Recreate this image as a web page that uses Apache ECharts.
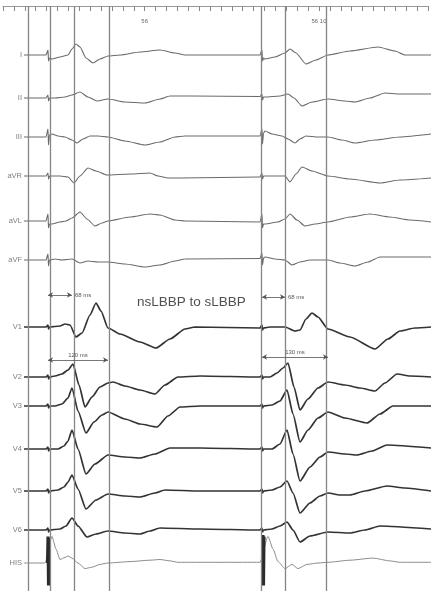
<!DOCTYPE html>
<html><head><meta charset="utf-8">
<script src="https://cdn.jsdelivr.net/npm/echarts@6/dist/echarts.min.js"></script>
<style>html,body{margin:0;padding:0;background:#fff}#c{width:431px;height:591px}</style>
</head><body><div id="c"></div>
<script>
// ---- DATA (time in ms relative to pacing spike, amplitude in arbitrary units, up positive) ----
const leadNames = ['I','II','III','aVR','aVL','aVF','V1','V2','V3','V4','V5','V6','HIS'];
const leadI = [[-48,0],[-4,0],[0,5],[1,-6],[3,-3],[8,-4],[24,-2],[40,0],[48,6],[56,11],[64,8],[76,-3],[90,-8],[104,-4],[120,-1],[144,0],[184,3],[224,5],[254,2],[274,0],[424,0],[428,5],[429,-6],[431,-3],[434,-4],[454,-2],[474,2],[484,6],[496,2],[516,-9],[536,-5],[560,0],[604,4],[660,8],[694,4],[714,0],[766,0]];
const leadII = [[-48,0],[-4,0],[0,3],[1,-3],[3,0],[14,0],[34,1],[48,3],[64,6],[80,1],[98,-3],[120,-1],[154,-4],[194,-5],[224,-1],[244,2],[284,2],[424,1.5],[428,4],[429,-2],[431,1],[434,1],[464,2],[480,4],[492,0],[508,-8],[528,-4],[560,-1],[594,-3],[614,-4],[644,0],[674,5],[704,4],[766,4]];
const leadIII = [[-48,0],[-4,0],[0,8],[1,-8],[3,2],[8,3],[20,1],[34,0],[48,-3],[58,-6],[70,-2],[84,1],[100,1],[120,0],[154,-4],[194,-8],[224,-5],[254,0],[274,1],[424,1],[428,8],[429,-7],[431,4],[434,6],[448,3],[468,1],[480,-2],[494,-6],[504,-2],[516,1],[540,0],[560,0],[588,-3],[614,-6],[654,-3],[704,0],[766,3]];
const leadAVR = [[-48,0],[-4,0],[0,3],[1,-3],[3,0],[24,0],[40,-1],[52,-7],[64,0],[80,8],[96,5],[118,1],[164,2],[204,3],[220,0],[240,-2],[264,-2],[424,-1],[428,3],[429,-3],[431,0],[474,0],[484,-6],[496,2],[508,9],[528,5],[560,0],[604,-3],[664,-7],[704,-4],[766,-2]];
const leadAVL = [[-48,0],[-4,0],[0,7],[1,-7],[3,-3],[8,-3],[24,-1],[36,0],[48,3],[64,9],[78,2],[94,-5],[108,-2],[120,0],[164,4],[204,7],[224,6],[254,1],[274,0],[424,-1],[428,7],[429,-7],[431,-3],[434,-3],[460,-1],[474,2],[484,7],[498,1],[514,-5],[534,-3],[560,-1],[604,4],[644,7],[684,4],[724,1],[766,-1]];
const leadAVF = [[-48,0],[-4,0],[0,6],[1,-6],[3,0],[14,1],[28,0],[48,1],[64,-3],[80,-1],[100,-2],[120,-2],[154,-4],[194,-7],[224,-5],[254,-1],[274,1],[424,1.5],[428,7],[429,-5],[431,2],[434,3],[454,1],[474,0],[488,-5],[504,-2],[524,0],[560,0],[584,-3],[614,-6],[640,-2],[664,3],[766,3]];
const leadV1 = [[-48,0],[-4,0],[0,2],[1,-2],[3,0],[24,1],[34,3],[44,2],[56,-10],[68,-6],[84,12],[96,24],[106,16],[120,-1],[144,-7],[184,-15],[216,-21],[244,-12],[274,-2],[294,0],[424,-1],[428,2],[429,-3],[431,-1],[444,0],[474,0],[494,-4],[504,-3],[516,8],[528,14],[540,10],[560,-2],[604,-10],[654,-22],[680,-12],[704,-4],[734,-1],[766,0]];
const leadV2 = [[-48,0],[-4,0],[0,2],[1,-2],[3,0],[14,1],[28,3],[40,7],[50,13],[62,-8],[74,-30],[88,-20],[104,-10],[120,-6],[130,-5],[154,-9],[184,-13],[214,-17],[234,-8],[260,0],[304,1],[424,0],[428,2],[429,-2],[431,0],[444,0],[458,4],[470,9],[480,14],[492,-10],[504,-33],[520,-22],[540,-11],[560,-5],[594,-8],[624,-11],[654,-14],[674,-6],[698,3],[724,1],[766,0]];
const leadV3 = [[-48,0],[-4,0],[0,2],[1,-2],[3,0],[14,0],[28,2],[40,8],[48,18],[60,-5],[76,-27],[92,-16],[108,-9],[120,-6],[154,-13],[184,-18],[218,-21],[240,-10],[264,-1],[304,0],[424,0],[428,2],[429,-2],[431,0],[448,1],[464,5],[478,16],[490,-8],[504,-36],[520,-24],[540,-12],[560,-6],[594,-12],[638,-17],[664,-8],[690,0],[766,0]];
const leadV4 = [[-48,0],[-4,0],[0,2],[1,-2],[3,0],[20,0],[32,3],[40,8],[48,19],[60,0],[76,-25],[94,-15],[120,-6],[154,-8],[184,-9],[214,-5],[244,1],[304,1],[424,0],[428,2],[429,-2],[431,0],[448,0],[464,5],[478,19],[490,-5],[504,-32],[524,-18],[544,-8],[560,-3],[594,-5],[618,-6],[648,-2],[678,4],[766,1]];
const leadV5 = [[-48,0],[-4,0],[0,2],[1,-2],[3,0],[20,1],[32,4],[40,9],[48,16],[60,2],[76,-18],[96,-9],[120,-3],[154,-5],[184,-6],[214,-2],[234,1],[304,0],[424,0],[428,2],[429,-2],[431,0],[448,1],[464,4],[478,10],[490,-2],[504,-22],[524,-12],[544,-5],[560,-2],[584,-4],[604,-4],[634,0],[678,5],[714,3],[766,0]];
const leadV6 = [[-48,0],[-4,0],[0,2],[1,-2],[3,0],[24,1],[36,4],[48,12],[60,4],[78,-7],[96,-4],[120,-1],[154,-3],[184,-4],[204,-1],[224,2],[304,1],[424,0],[428,2],[429,-2],[431,0],[448,1],[464,4],[478,8],[490,0],[504,-12],[524,-6],[560,-2],[604,-3],[634,0],[664,4],[766,1]];
const hisTrace = [[-48,0],[-6,0],[8,38],[16,20],[24,5],[34,8],[40,10],[48,7],[60,0],[74,-8],[88,-6],[104,-2],[120,0],[164,2],[204,4],[224,5],[244,3],[260,1],[424,1],[440,38],[450,20],[460,2],[474,-8],[488,-2],[500,-8],[518,-2],[540,0],[560,1],[604,4],[650,7],[684,3],[704,1],[766,1]];
const hisArtifactL = [[-3,0],[-2,38],[-1,-32],[0,38],[1,-32],[2,38],[3,-32],[4,36]];
const hisArtifactR = [[427,0],[428,40],[429,-32],[430,40],[431,-32],[432,40],[433,-32],[434,38]];
const markerTimes = [-44, 0, 48, 120, 428, 476, 560];
const shortIntervals = [{from:0,to:48,label:'68 ms'},{from:428,to:474,label:'68 ms'}];
const longIntervals = [{from:0,to:120,label:'120 ms'},{from:428,to:560,label:'130 ms'}];
const rulerLabels = {13:'56', 29:'56 10'};
const annotationText = 'nsLBBP to sLBBP';

// ---- LAYOUT ----
const leadData = [leadI,leadII,leadIII,leadAVR,leadAVL,leadAVF,leadV1,leadV2,leadV3,leadV4,leadV5,leadV6,hisTrace];
const baselines = [55,98,137,176,221,260,327,377,406,449,491,530,575];
const half = 40;
const T0 = -48, T1 = 766;
const fontFam = '"Liberation Sans", Arial, sans-serif';

const grid = [{left:0,right:0,top:6,bottom:0}];
const xAxis = [
  {gridIndex:0,type:'value',min:-96,max:T1,show:false},
  {gridIndex:0,type:'value',min:0,max:39,interval:1,position:'top',
   axisLine:{show:true,lineStyle:{color:'#9a9a9a',width:1}},
   axisTick:{show:true,inside:true,length:5,lineStyle:{color:'#888',width:1}},
   axisLabel:{show:true,inside:true,margin:12,fontSize:6,color:'#666',fontFamily:fontFam,
     formatter:v=>rulerLabels[v]||''},
   splitLine:{show:false}}
];
const yAxis = [{gridIndex:0,type:'value',min:0,max:1,show:false}];
const series = [{
  type:'line',xAxisIndex:0,yAxisIndex:0,data:[],silent:true,z:1,
  markLine:{silent:true,symbol:['none','none'],animation:false,
    lineStyle:{color:'#858585',width:1.3,type:'solid'},label:{show:false},
    data:markerTimes.map(t=>({xAxis:t}))}
}];

leadNames.forEach((name,i)=>{
  const gi = i+1;
  const xi = i+2;
  grid.push({left:24,right:0,top:baselines[i]-half,height:half*2});
  xAxis.push({gridIndex:gi,type:'value',min:T0,max:T1,show:false});
  yAxis.push({gridIndex:gi,type:'value',min:-half,max:half,interval:half,
    axisLine:{show:false},axisTick:{show:false},splitLine:{show:false},
    axisLabel:{show:true,margin:2,fontSize:7.5,color:'#808080',fontFamily:fontFam,
      formatter:v=>v===0?name:''}});
  const precordial = i>=6 && i<=11;
  const isHis = i===12;
  const s = {
    type:'line',xAxisIndex:xi,yAxisIndex:gi,data:leadData[i],
    showSymbol:false,symbol:'none',smooth:0.2,smoothMonotone:'x',clip:false,z:3,
    lineStyle:{color: isHis?'#8c8c8c':(precordial?'#333':'#6a6a6a'),
               width: isHis?1:(precordial?1.7:1.1)}
  };
  if (i===6) {
    s.markLine = {silent:true,symbol:['arrow','arrow'],symbolSize:[4,5],animation:false,
      lineStyle:{color:'#555',width:0.8,type:'solid'},
      data: shortIntervals.map((iv,k)=>[
        {coord:[iv.from, k===0?32:30],label:{show:true,position:'end',distance:3,formatter:iv.label,
           fontSize:6,color:'#555',fontFamily:fontFam}},
        {coord:[iv.to, k===0?32:30]}])};
  }
  if (i===7) {
    s.markLine = {silent:true,symbol:['arrow','arrow'],symbolSize:[4,5],animation:false,
      lineStyle:{color:'#555',width:0.8,type:'solid'},
      data: longIntervals.map((iv,k)=>[
        {coord:[iv.from, k===0?17:20],label:{show:true,position:'insideMiddleTop',distance:2,formatter:iv.label,
           fontSize:6,color:'#555',fontFamily:fontFam}},
        {coord:[iv.to, k===0?17:20]}])};
  }
  series.push(s);
  if (isHis) {
    [hisArtifactL,hisArtifactR].forEach(a=>series.push({
      type:'line',xAxisIndex:xi,yAxisIndex:gi,data:a,showSymbol:false,symbol:'none',
      smooth:false,z:4,lineStyle:{color:'#2a2a2a',width:1.1}}));
  }
});

const chart = echarts.init(document.getElementById('c'),null,{renderer:'canvas'});
chart.setOption({
  animation:false,
  backgroundColor:'#fff',
  title:{text:annotationText,left:132,top:290,
    textStyle:{fontSize:13.5,fontWeight:'normal',color:'#505050',fontFamily:fontFam}},
  grid, xAxis, yAxis, series
});
</script>
</body></html>
